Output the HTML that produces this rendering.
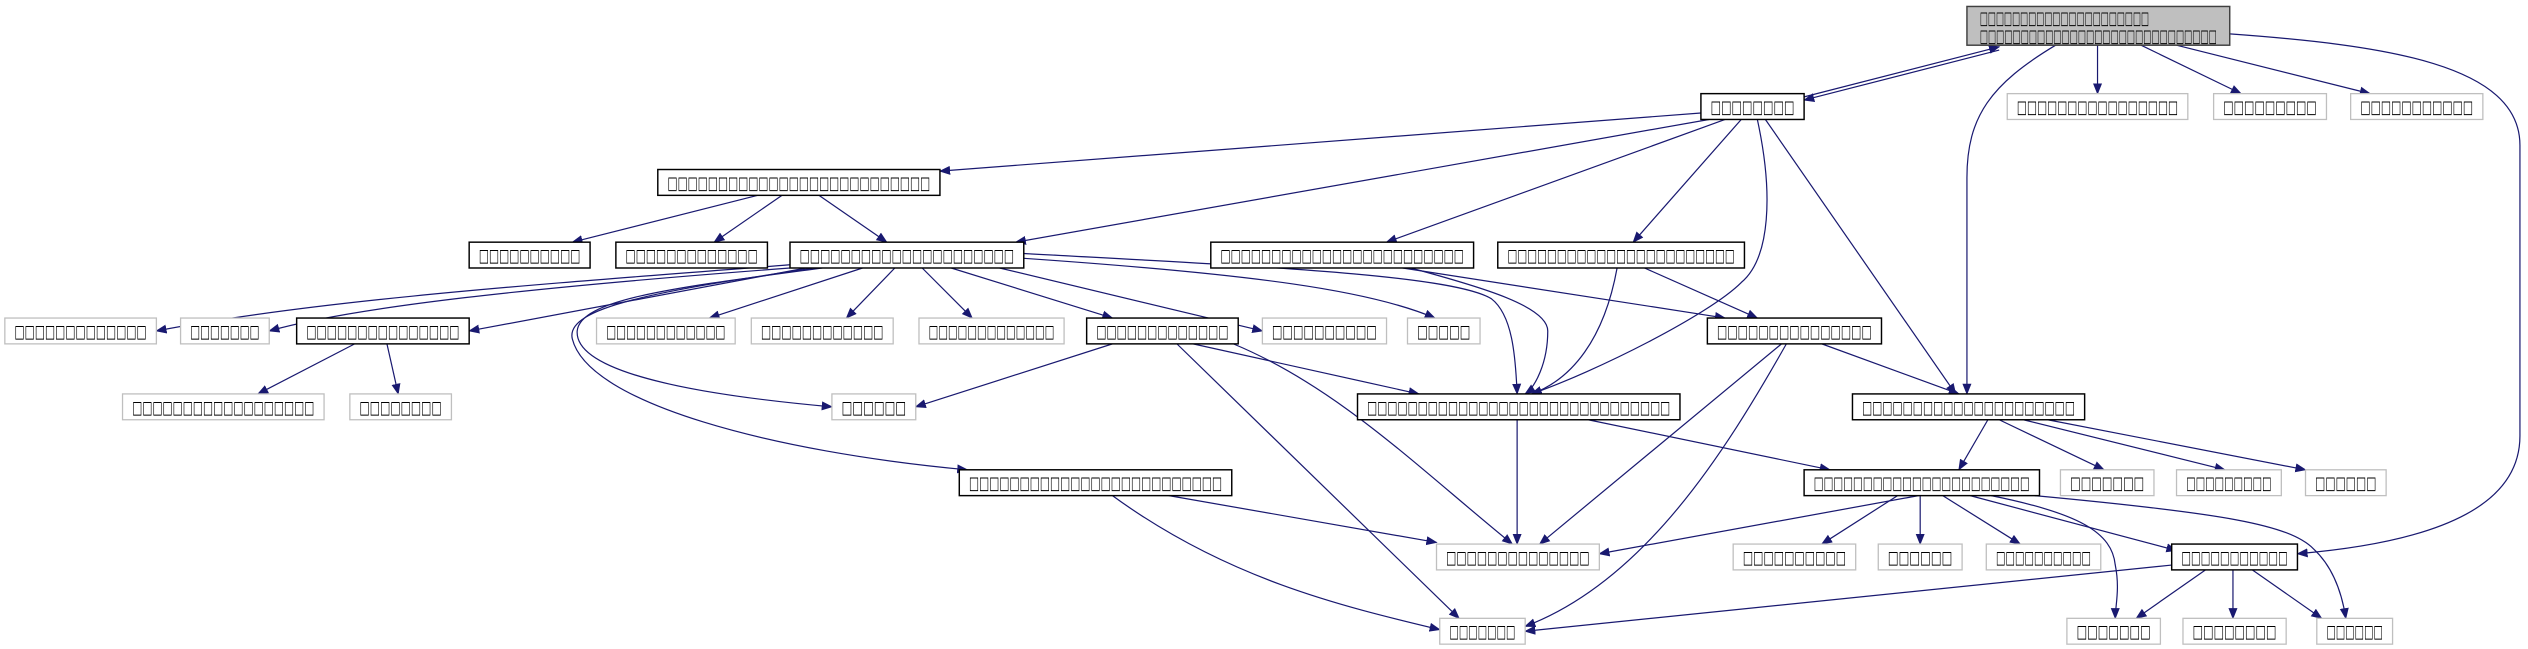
<!DOCTYPE html>
<html><head><meta charset="utf-8"><style>
html,body{margin:0;padding:0;background:#fff;}
svg{display:block;}
text{font-family:"DejaVu Sans","Liberation Sans",sans-serif;font-size:11px;fill:#000;}
.e{fill:none;stroke:#191970;stroke-width:0.75;}
.n{fill:#fff;stroke:#000;stroke-width:0.9;}
.g{fill:#fff;stroke:#bfbfbf;stroke-width:0.8;}
</style></head><body>
<svg width="2528" height="649" viewBox="0 0 1568 402" preserveAspectRatio="none" xmlns="http://www.w3.org/2000/svg">
<defs><marker id="a" viewBox="0 0 10 10" refX="9" refY="5" markerWidth="7" markerHeight="7" markerUnits="userSpaceOnUse" orient="auto"><path d="M0,1 L10,5 L0,9 z" fill="#191970"/></marker></defs>
<g class="e" marker-end="url(#a)">
<path d="M1119,60 L1240,29"/>
<path d="M1240,31 L1119,62"/>
<path d="M1301,28 L1301,58"/>
<path d="M1328,28 L1390,58"/>
<path d="M1350,28 L1470,58"/>
<path d="M1275,28 C1235,52 1220,72 1220,110 L1220,244"/>
<path d="M1383,21 C1480,28 1563,40 1563,90 L1563,270 C1563,310 1520,335 1425,343"/>
<path d="M1055,70 L583,106"/>
<path d="M1060,74 L630,150"/>
<path d="M1070,74 L860,150"/>
<path d="M1080,74 L1013,150"/>
<path d="M1090,74 C1100,120 1098,160 1080,175 C1060,195 990,230 950,244"/>
<path d="M1095,74 L1213,244"/>
<path d="M470,121 L355,150"/>
<path d="M485,121 L443,150"/>
<path d="M508,121 L550,150"/>
<path d="M490,164 C350,175 200,185 97,205"/>
<path d="M490,166 C330,178 220,190 167,205"/>
<path d="M500,166 L291,205"/>
<path d="M535,166 L440,197"/>
<path d="M555,166 L525,197"/>
<path d="M572,166 L603,197"/>
<path d="M590,166 L690,197"/>
<path d="M620,166 L783,205"/>
<path d="M635,160 C780,170 850,180 890,197"/>
<path d="M635,157 C780,165 900,170 925,185 C938,195 940,220 941,244"/>
<path d="M510,166 C420,178 360,185 358,205 C356,235 460,247 516,252"/>
<path d="M505,166 C410,180 350,190 355,210 C365,250 480,280 600,291"/>
<path d="M870,166 L1070,197"/>
<path d="M875,166 C920,178 960,190 960,205 C960,225 952,240 946,244"/>
<path d="M1020,166 L1090,197"/>
<path d="M1003,166 C995,210 975,235 950,244"/>
<path d="M220,213 L160,244"/>
<path d="M240,213 L247,244"/>
<path d="M690,213 L568,252"/>
<path d="M740,213 L880,244"/>
<path d="M765,213 C830,240 880,290 938,337"/>
<path d="M730,213 L905,383"/>
<path d="M1130,213 L1215,244"/>
<path d="M1105,213 L955,337"/>
<path d="M1108,213 C1070,280 1020,360 946,388"/>
<path d="M941,260 L941,337"/>
<path d="M985,260 L1135,291"/>
<path d="M1233,260 L1215,291"/>
<path d="M1240,260 L1305,291"/>
<path d="M1255,260 L1380,291"/>
<path d="M1270,260 L1430,291"/>
<path d="M725,307 L891,336"/>
<path d="M690,307 C760,358 830,375 893,390"/>
<path d="M1190,307 L992,343"/>
<path d="M1177,307 L1130,337"/>
<path d="M1191,307 L1191,337"/>
<path d="M1205,307 L1253,337"/>
<path d="M1222,307 L1350,341"/>
<path d="M1235,307 C1290,318 1310,330 1312,350 C1315,365 1312,375 1312,383"/>
<path d="M1262,307 C1380,318 1420,325 1435,340 C1448,352 1453,370 1455,383"/>
<path d="M1347,350 L946,391"/>
<path d="M1368,353 L1325,383"/>
<path d="M1385,353 L1385,383"/>
<path d="M1397,353 L1440,383"/>
</g>
<rect x="1220" y="4" width="163" height="24" fill="#bfbfbf" stroke="#404040" stroke-width="0.9"/>
<text x="1228" y="15" textLength="105" lengthAdjust="spacingAndGlyphs">□□□□□□□□□□□□□□□□□□□□□</text>
<text x="1228" y="26" textLength="147" lengthAdjust="spacingAndGlyphs">□□□□□□□□□□□□□□□□□□□□□□□□□□□□□</text>
<g id="nodes"></g>
</svg>
<script>
var N=[
[1055,58,64,1],[1245,58,112,0],[1373,58,70,0],[1458,58,82,0],
[408,105,175,1],
[291,150,75,1],[382,150,94,1],[490,150,145,1],[751,150,163,1],[929,150,153,1],
[3,197,94,0],[112,197,55,0],[184,197,107,1],[370,197,86,0],[466,197,88,0],[570,197,90,0],[674,197,94,1],[783,197,77,0],[873,197,45,0],[1059,197,108,1],
[76,244,125,0],[217,244,63,0],[516,244,52,0],[842,244,200,1],[1149,244,144,1],
[595,291,169,1],[1119,291,146,1],[1278,291,58,0],[1350,291,65,0],[1430,291,50,0],
[891,337,101,0],[1075,337,76,0],[1165,337,52,0],[1232,337,71,0],[1347,337,78,1],
[893,383,53,0],[1282,383,58,0],[1354,383,64,0],[1437,383,47,0]];
var g=document.getElementById('nodes'),s='';
N.forEach(function(n){var w=n[2],tl=w-12,c=Math.max(3,Math.round(tl/6.2));
s+='<rect class="'+(n[3]?'n':'g')+'" x="'+n[0]+'" y="'+n[1]+'" width="'+w+'" height="16"/>';
s+='<text x="'+(n[0]+6)+'" y="'+(n[1]+12)+'" textLength="'+tl+'" lengthAdjust="spacingAndGlyphs">'+'□'.repeat(c)+'</text>';});
g.innerHTML=s;
</script>
</body></html>
